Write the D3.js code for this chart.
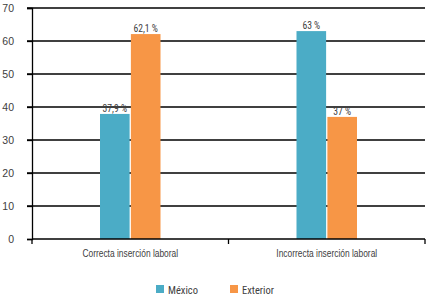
<!DOCTYPE html>
<html><head><meta charset="utf-8">
<script src="https://cdn.jsdelivr.net/npm/d3@7"></script>
<style>
body{margin:0;background:#fff;}
text{font-family:"Liberation Sans Narrow","Arial Narrow","Roboto Condensed","Liberation Sans",sans-serif;fill:#404040;}
</style></head>
<body><svg id="c" width="429" height="298"></svg>
<script>
const categories = ["Correcta inserción laboral", "Incorrecta inserción laboral"];
const seriesNames = ["México", "Exterior"];
const mexico = [37.9, 63];
const exterior = [62.1, 37];
const mexicoLabels = ["37,9 %", "63 %"];
const exteriorLabels = ["62,1 %", "37 %"];
const yTicks = [0, 10, 20, 30, 40, 50, 60, 70];
const colors = ["#4BACC6", "#F79646"];

(function(){
const svg = d3.select("#c");
const mLeft = 32, mRight = 425, mTop = 8, mBottom = 239;
const x = d3.scaleBand().domain(categories).range([mLeft, mRight]);
const y = d3.scaleLinear().domain([0, 70]).range([mBottom, mTop]);
const barW = 29, gap = 2.5;
const xs = d3.scaleBand().domain(seriesNames).range([-(barW + gap/2), barW + gap/2]).paddingInner(gap/(2*barW+gap));

function squeeze(sel, f) {
  sel.each(function(){
    const L = this.getComputedTextLength();
    d3.select(this).attr("textLength", L * f).attr("lengthAdjust", "spacingAndGlyphs");
  });
}

svg.append("g").selectAll("line").data(yTicks.filter(d => d > 0)).join("line")
  .attr("x1", mLeft - 5).attr("x2", mRight).attr("y1", d => y(d)).attr("y2", d => y(d))
  .attr("stroke", "#000").attr("stroke-width", 1.3);

const ya = svg.append("g").attr("transform", `translate(${mLeft},0)`)
  .call(d3.axisLeft(y).tickValues(yTicks).tickSize(5).tickPadding(13));
ya.select(".domain").attr("stroke", "#000").attr("stroke-width", 1.3);
ya.selectAll(".tick line").attr("stroke", "#000").attr("stroke-width", 1.3);
ya.selectAll(".tick text").attr("font-size", 10.5).attr("fill", "#404040")
  .style("font-family", '"Liberation Sans Narrow","Arial Narrow",sans-serif');

const series = [mexico, exterior];
const labels = [mexicoLabels, exteriorLabels];
series.forEach((vals, si) => {
  const g = svg.append("g");
  g.selectAll("rect").data(categories).join("rect")
    .attr("x", (c) => x(c) + x.bandwidth()/2 + xs(seriesNames[si]))
    .attr("width", xs.bandwidth())
    .attr("y", (c, i) => y(vals[i]))
    .attr("height", (c, i) => mBottom - y(vals[i]))
    .attr("fill", colors[si]);
  const t = g.selectAll("text").data(categories).join("text")
    .attr("x", (c) => x(c) + x.bandwidth()/2 + xs(seriesNames[si]) + xs.bandwidth()/2)
    .attr("y", (c, i) => y(vals[i]) - 1.8)
    .attr("text-anchor", "middle").attr("font-size", 11.2)
    .text((c, i) => labels[si][i]);
  squeeze(t, 0.86);
});

const xa = svg.append("g").attr("transform", `translate(0,${mBottom})`)
  .call(d3.axisBottom(x).tickSize(0).tickPadding(11));
xa.select(".domain").remove();
svg.append("line").attr("x1", mLeft).attr("x2", mRight).attr("y1", mBottom).attr("y2", mBottom)
  .attr("stroke", "#000").attr("stroke-width", 1.3);
const sep = [mLeft, x(categories[1]), mRight];
svg.append("g").selectAll("line").data(sep).join("line")
  .attr("x1", d => d).attr("x2", d => d).attr("y1", mBottom).attr("y2", mBottom + 5)
  .attr("stroke", "#000").attr("stroke-width", 1.3);
xa.selectAll(".tick text").attr("font-size", 10.5).attr("fill", "#404040")
  .style("font-family", '"Liberation Sans Narrow","Arial Narrow",sans-serif');
squeeze(xa.selectAll(".tick text"), 0.8);

const legX = [156, 230];
const leg = svg.append("g");
seriesNames.forEach((n, i) => {
  leg.append("rect").attr("x", legX[i]).attr("y", 285).attr("width", 8).attr("height", 8).attr("fill", colors[i]);
  leg.append("text").attr("x", legX[i] + 12).attr("y", 293.5).attr("font-size", 10.5).text(n);
});
})();
</script></body></html>
